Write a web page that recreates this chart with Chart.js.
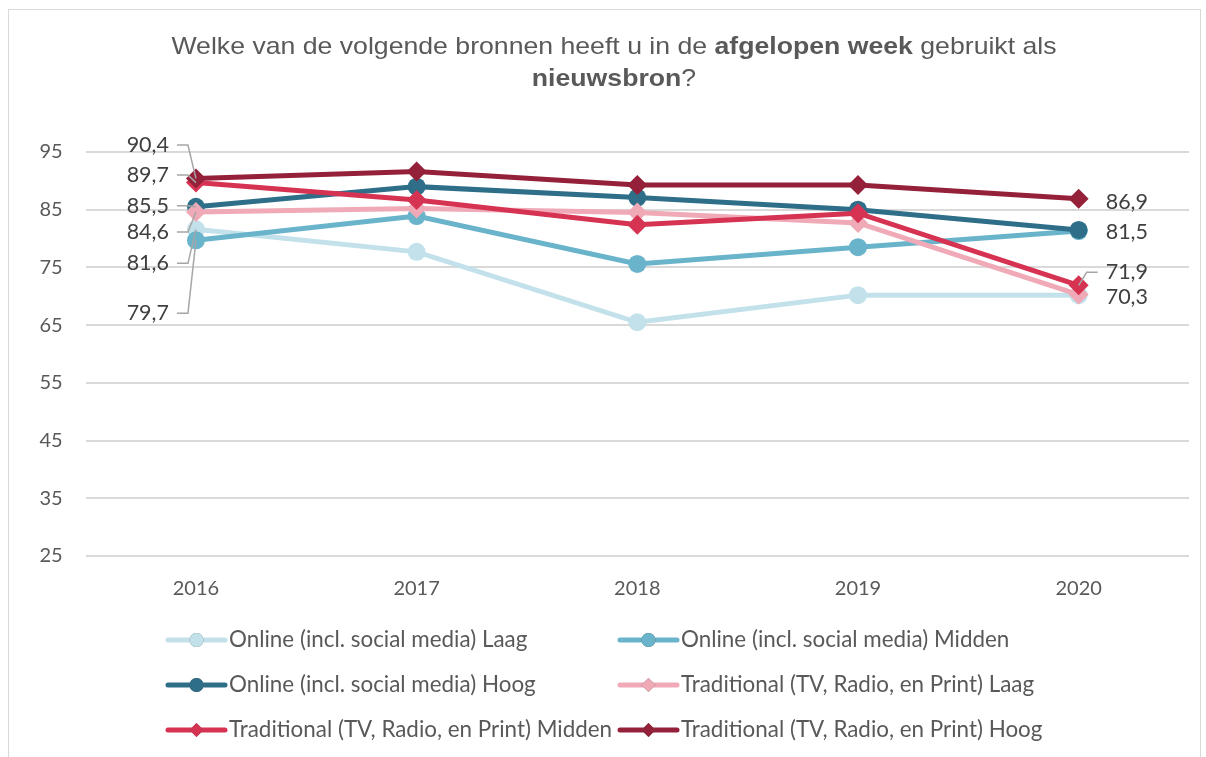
<!DOCTYPE html>
<html>
<head>
<meta charset="utf-8">
<script src="https://cdn.jsdelivr.net/npm/chart.js@4.4.0/dist/chart.umd.min.js"></script>
<style>
  html, body { margin: 0; padding: 0; background: #ffffff; }
  #wrap { width: 1206px; height: 757px; position: relative; }
</style>
</head>
<body>
<div id="wrap"><canvas id="chart" width="1206" height="757"></canvas></div>
<script>
// --- data ---
const years = ['2016', '2017', '2018', '2019', '2020'];
const seriesNames = [
    'Online (incl. social media) Laag',
    'Online (incl. social media) Midden',
    'Online (incl. social media) Hoog',
    'Traditional (TV, Radio, en Print) Laag',
    'Traditional (TV, Radio, en Print) Midden',
    'Traditional (TV, Radio, en Print) Hoog'
];
const onlineLaag   = [81.6, 77.7, 65.5, 70.2, 70.2];
const onlineMidden = [79.7, 83.9, 75.6, 78.5, 81.3];
const onlineHoog   = [85.5, 89.0, 87.1, 85.0, 81.5];
const tradLaag     = [84.6, 85.2, 84.5, 82.7, 70.3];
const tradMidden   = [89.7, 86.7, 82.4, 84.4, 71.9];
const tradHoog     = [90.4, 91.6, 89.3, 89.3, 86.9];
const yTicks = [25, 35, 45, 55, 65, 75, 85, 95];

const colors = ['#c3e1ea', '#69b3cb', '#2e6e88', '#f0aab7', '#d63353', '#95203a'];
const styles = ['circle', 'circle', 'circle', 'rectRot', 'rectRot', 'rectRot'];
const allSeries = [onlineLaag, onlineMidden, onlineHoog, tradLaag, tradMidden, tradHoog];

// which points get a value label, and where the label sits relative to the point
const labelSpots = [
    { ds: 5, idx: 0, side: 'left', dy: -33.5, leader: true },
    { ds: 4, idx: 0, side: 'left', dy: -7.6, leader: true },
    { ds: 2, idx: 0, side: 'left', dy: -1, leader: true },
    { ds: 3, idx: 0, side: 'left', dy: 20, leader: true },
    { ds: 0, idx: 0, side: 'left', dy: 34, leader: true },
    { ds: 1, idx: 0, side: 'left', dy: 73, leader: true },
    { ds: 5, idx: 4, side: 'right', dy: 3, leader: false },
    { ds: 2, idx: 4, side: 'right', dy: 2, leader: false },
    { ds: 4, idx: 4, side: 'right', dy: -13, leader: true },
    { ds: 3, idx: 4, side: 'right', dy: 2.5, leader: false }
];

const FONT = 'Lato, "Open Sans", sans-serif';

// value labels with grey leader lines
const valueLabels = {
    id: 'valueLabels',
    afterDatasetsDraw(chart) {
        const ctx = chart.ctx;
        ctx.save();
        ctx.font = '21.5px ' + FONT;
        ctx.textBaseline = 'middle';
        labelSpots.forEach(s => {
            const pt = chart.getDatasetMeta(s.ds).data[s.idx];
            const v = chart.data.datasets[s.ds].data[s.idx];
            const txt = v.toFixed(1).replace('.', ',');
            const ly = pt.y + s.dy;
            const dir = s.side === 'left' ? -1 : 1;
            if (s.leader) {
                ctx.strokeStyle = '#a6a6a6';
                ctx.lineWidth = 1.5;
                ctx.beginPath();
                ctx.moveTo(pt.x + dir * 19, ly);
                ctx.lineTo(pt.x + dir * 8, ly);
                ctx.lineTo(pt.x, pt.y);
                ctx.stroke();
            }
            ctx.fillStyle = '#404040';
            ctx.textAlign = s.side === 'left' ? 'right' : 'left';
            ctx.fillText(txt, pt.x + dir * 27, ly);
        });
        ctx.restore();
    }
};

// title with bold parts, legend in two columns, frame
const decorations = {
    id: 'decorations',
    afterDraw(chart) {
        const ctx = chart.ctx;
        ctx.save();
        // frame
        ctx.strokeStyle = '#d9d9d9';
        ctx.lineWidth = 1;
        ctx.strokeRect(8.5, 9.5, 1192, 760);

        // title (the original font is a little wider than Arial, so stretch it)
        const lines = [
            [['Welke van de volgende bronnen heeft u in de ', false], ['afgelopen week', true], [' gebruikt als', false]],
            [['nieuwsbron', true], ['?', false]]
        ];
        const lineY = [47, 79];
        const stretch = 1.11;
        ctx.fillStyle = '#595959';
        ctx.textBaseline = 'middle';
        ctx.textAlign = 'left';
        lines.forEach((runs, i) => {
            let w = 0;
            runs.forEach(r => {
                ctx.font = (r[1] ? 'bold ' : '') + '24px "Liberation Sans", Arial, sans-serif';
                w += ctx.measureText(r[0]).width;
            });
            ctx.save();
            ctx.translate(614 - w * stretch / 2, lineY[i]);
            ctx.scale(stretch, 1);
            let x = 0;
            runs.forEach(r => {
                ctx.font = (r[1] ? 'bold ' : '') + '24px "Liberation Sans", Arial, sans-serif';
                ctx.fillText(r[0], x, 0);
                x += ctx.measureText(r[0]).width;
            });
            ctx.restore();
        });

        // legend
        const colX = [168, 620];
        const rowY = [640, 685, 730];
        ctx.font = '22.4px ' + FONT;
        chart.data.datasets.forEach((ds, i) => {
            const x = colX[i % 2];
            const y = rowY[Math.floor(i / 2)];
            ctx.strokeStyle = ds.borderColor;
            ctx.lineWidth = 5;
            ctx.lineCap = 'round';
            ctx.beginPath();
            ctx.moveTo(x, y);
            ctx.lineTo(x + 57, y);
            ctx.stroke();
            Chart.helpers.drawPoint(ctx, {
                pointStyle: ds.pointStyle, radius: 7, borderWidth: 0, rotation: 0
            }, x + 28.5, y);
            ctx.fillStyle = ds.borderColor;
            ctx.fill();
            ctx.fillStyle = '#595959';
            ctx.textAlign = 'left';
            ctx.textBaseline = 'middle';
            ctx.fillText(ds.label, x + 61, y);
        });
        ctx.restore();
    }
};

const datasets = allSeries.map((vals, i) => ({
    label: seriesNames[i],
    data: vals,
    borderColor: colors[i],
    backgroundColor: colors[i],
    pointBackgroundColor: colors[i],
    pointBorderColor: colors[i],
    pointStyle: styles[i],
    pointRadius: styles[i] === 'circle' ? 9 : 10,
    pointBorderWidth: 0,
    borderWidth: 5,
    fill: false,
    tension: 0,
    order: 6 - i
}));

new Chart(document.getElementById('chart').getContext('2d'), {
    type: 'line',
    data: { labels: years, datasets: datasets },
    options: {
        responsive: false,
        animation: false,
        devicePixelRatio: 1,
        layout: { padding: { top: 152, left: 0, right: 17, bottom: 0 } },
        plugins: {
            legend: { display: false },
            title: { display: false },
            tooltip: { enabled: false }
        },
        scales: {
            x: {
                offset: true,
                grid: { display: false, drawTicks: false },
                border: { display: false },
                ticks: { color: '#595959', font: { family: FONT, size: 20 }, padding: 21 },
                afterFit(s) { s.height = 201; }
            },
            y: {
                min: 25,
                max: 95,
                afterBuildTicks(s) { s.ticks = yTicks.map(v => ({ value: v })); },
                grid: { color: '#d9d9d9', lineWidth: 2, drawTicks: false },
                border: { display: false },
                ticks: { color: '#595959', font: { family: FONT, size: 20 }, padding: 23 },
                afterFit(s) { s.width = 85.6; }
            }
        }
    },
    plugins: [valueLabels, decorations]
});
</script>
</body>
</html>
